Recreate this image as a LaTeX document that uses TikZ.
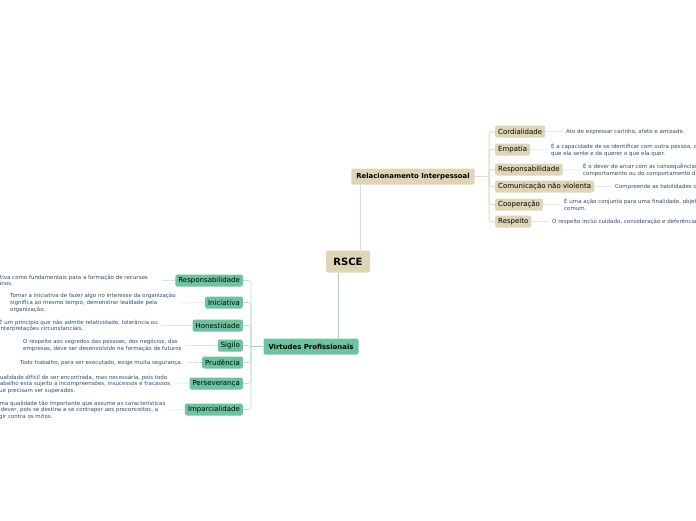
\documentclass[tikz,border=0pt]{standalone}
\usepackage{fontspec}
\setmainfont{DejaVu Sans}
\definecolor{beige}{HTML}{DDD5B6}
\definecolor{beigeline}{HTML}{E3DCC4}
\definecolor{greenbox}{HTML}{6CC3A0}
\definecolor{greenline}{HTML}{9CD6BE}
\definecolor{desctext}{HTML}{2E4F6E}
\definecolor{thinline}{HTML}{D8E8E0}
\definecolor{thinbeige}{HTML}{EAE5D3}
\tikzset{
  rootbox/.style={fill=beige, rounded corners=2.5pt, font=\fontsize{10}{12}\selectfont\bfseries, minimum height=22pt, minimum width=44pt, inner sep=0pt},
  mainbeige/.style={fill=beige, rounded corners=2pt, font=\fontsize{6.9}{8}\selectfont\bfseries, minimum height=16pt, inner xsep=5pt},
  maingreen/.style={fill=greenbox, rounded corners=2pt, font=\fontsize{6.9}{8}\selectfont\bfseries, minimum height=16pt, inner xsep=5pt},
  subbeige/.style={fill=beige, rounded corners=2pt, font=\fontsize{7}{8}\selectfont, minimum height=12pt, inner xsep=3pt, inner ysep=0pt},
  subgreen/.style={fill=greenbox, rounded corners=2pt, font=\fontsize{7}{8}\selectfont, minimum height=12pt, inner xsep=3pt, inner ysep=0pt},
  desc/.style={text=desctext, font=\fontsize{5.5}{6.6}\selectfont, align=left, inner sep=0pt},
  bline/.style={draw=beigeline, line width=1pt},
  gline/.style={draw=greenline, line width=1pt},
  tline/.style={draw=thinline, line width=0.6pt},
  tbline/.style={draw=thinbeige, line width=0.6pt},
}
\begin{document}
\begin{tikzpicture}[x=1pt,y=-1pt]
\useasboundingbox (0,0) rectangle (696,520);
\clip (0,0) rectangle (696,520);
\fill[white] (0,0) rectangle (696,520);

% root and main branches
\node[rootbox] (rsce) at (348,261.5) {RSCE};
\node[mainbeige] (rel) at (413,176.5) {Relacionamento Interpessoal};
\node[maingreen] (vp) at (311,346.5) {Virtudes Profissionais};

\draw[bline] ([xshift=12pt]rsce.north) -- ([xshift=12pt]rsce.north |- rel.south);
\draw[gline, rounded corners=3pt] ([xshift=-10pt]rsce.south) -- ([xshift=-10pt]rsce.south |- vp.north);

% right branch children
\node[subbeige, anchor=west] (cord) at (495,131.5) {Cordialidade};
\node[subbeige, anchor=west] (emp) at (495,149.5) {Empatia};
\node[subbeige, anchor=west] (resp) at (495,169.5) {Responsabilidade};
\node[subbeige, anchor=west] (com) at (495,186.5) {Comunicação não violenta};
\node[subbeige, anchor=west] (coop) at (495,204.5) {Cooperação};
\node[subbeige, anchor=west] (resq) at (495,221.5) {Respeito};

\coordinate (rb) at (489,176.5);
\draw[bline] (rel.east) -- (rb);
\foreach \n in {cord,emp,resp,com,coop,resq}{
  \draw[bline, rounded corners=3pt] (rb) |- (\n.west);
}

\node[desc, anchor=west] (cordd) at (566,131.5) {Ato de expressar carinho, afeto e amizade.};
\node[desc, anchor=west] (empd) at (551,150) {É a capacidade de se identificar com outra pessoa, de sentir o\\que ela sente e de querer o que ela quer.};
\node[desc, anchor=west] (respd) at (583,170) {É o dever de arcar com as consequências do seu\\comportamento ou do comportamento de outros.};
\node[desc, anchor=west] (comd) at (615,186.5) {Compreende as habilidades de comunicação.};
\node[desc, anchor=west] (coopd) at (564,204.5) {É uma ação conjunta para uma finalidade, objetivo\\comum.};
\node[desc, anchor=west] (resqd) at (552,221.5) {O respeito inclui cuidado, consideração e deferência.};

\draw[tbline] (cord.east) -- ([xshift=-4pt]cordd.west);
\draw[tbline] (emp.east) -- ([xshift=-4pt]empd.west);
\draw[tbline] (resp.east) -- ([xshift=-4pt]respd.west);
\draw[tbline] (com.east) -- ([xshift=-4pt]comd.west);
\draw[tbline] (coop.east) -- ([xshift=-4pt]coopd.west);
\draw[tbline] (resq.east) -- ([xshift=-4pt]resqd.west);

% left branch children
\node[subgreen, anchor=east] (lresp) at (243,280.5) {Responsabilidade};
\node[subgreen, anchor=east] (inic) at (243,302.5) {Iniciativa};
\node[subgreen, anchor=east] (hon) at (243,325.5) {Honestidade};
\node[subgreen, anchor=east] (sig) at (243,345.5) {Sigilo};
\node[subgreen, anchor=east] (pru) at (243,362.5) {Prudência};
\node[subgreen, anchor=east] (per) at (243,383.5) {Perseverança};
\node[subgreen, anchor=east] (imp) at (243,409.5) {Imparcialidade};

\coordinate (lb) at (251,346.5);
\draw[gline] (vp.west) -- (lb);
\foreach \n in {lresp,inic,hon,sig,pru,per,imp}{
  \draw[draw=greenline!70, line width=0.8pt, rounded corners=3pt] (lb) |- (\n.east);
}

\node[desc, anchor=west] (lrespd) at (-14.5,280.5) {iniciativa como fundamentais para a formação de recursos\\humanos.};
\node[desc, anchor=west] (inicd) at (10,303) {Tomar a iniciativa de fazer algo no interesse da organização\\significa ao mesmo tempo, demonstrar lealdade pela\\organização.};
\node[desc, anchor=west] (hond) at (-1,325.5) {É um princípio que não admite relatividade, tolerância ou\\interpretações circunstanciais.};
\node[desc, anchor=west] (sigd) at (23,345.5) {O respeito aos segredos das pessoas, dos negócios, das\\empresas, deve ser desenvolvido na formação de futuros};
\node[desc, anchor=west] (prud) at (20,362.5) {Todo trabalho, para ser executado, exige muita segurança.};
\node[desc, anchor=west] (perd) at (-4.5,384) {Qualidade difícil de ser encontrada, mas necessária, pois todo\\trabalho está sujeito a incompreensões, insucessos e fracassos\\que precisam ser superados.};
\node[desc, anchor=west] (impd) at (-4.5,410) {Uma qualidade tão importante que assume as características\\o dever, pois se destina a se contrapor aos preconceitos, a\\agir contra os mitos.};

\draw[tline] (lresp.west) -- ([xshift=14pt]lrespd.east);
\draw[tline] (inic.west) -- ([xshift=4pt]inicd.east);
\draw[tline] (hon.west) -- ([xshift=4pt]hond.east);
\draw[tline] (sig.west) -- ([xshift=4pt]sigd.east);
\draw[tline] (pru.west) -- ([xshift=4pt]prud.east);
\draw[tline] (per.west) -- ([xshift=4pt]perd.east);
\draw[tline] (imp.west) -- ([xshift=4pt]impd.east);
\end{tikzpicture}
\end{document}
